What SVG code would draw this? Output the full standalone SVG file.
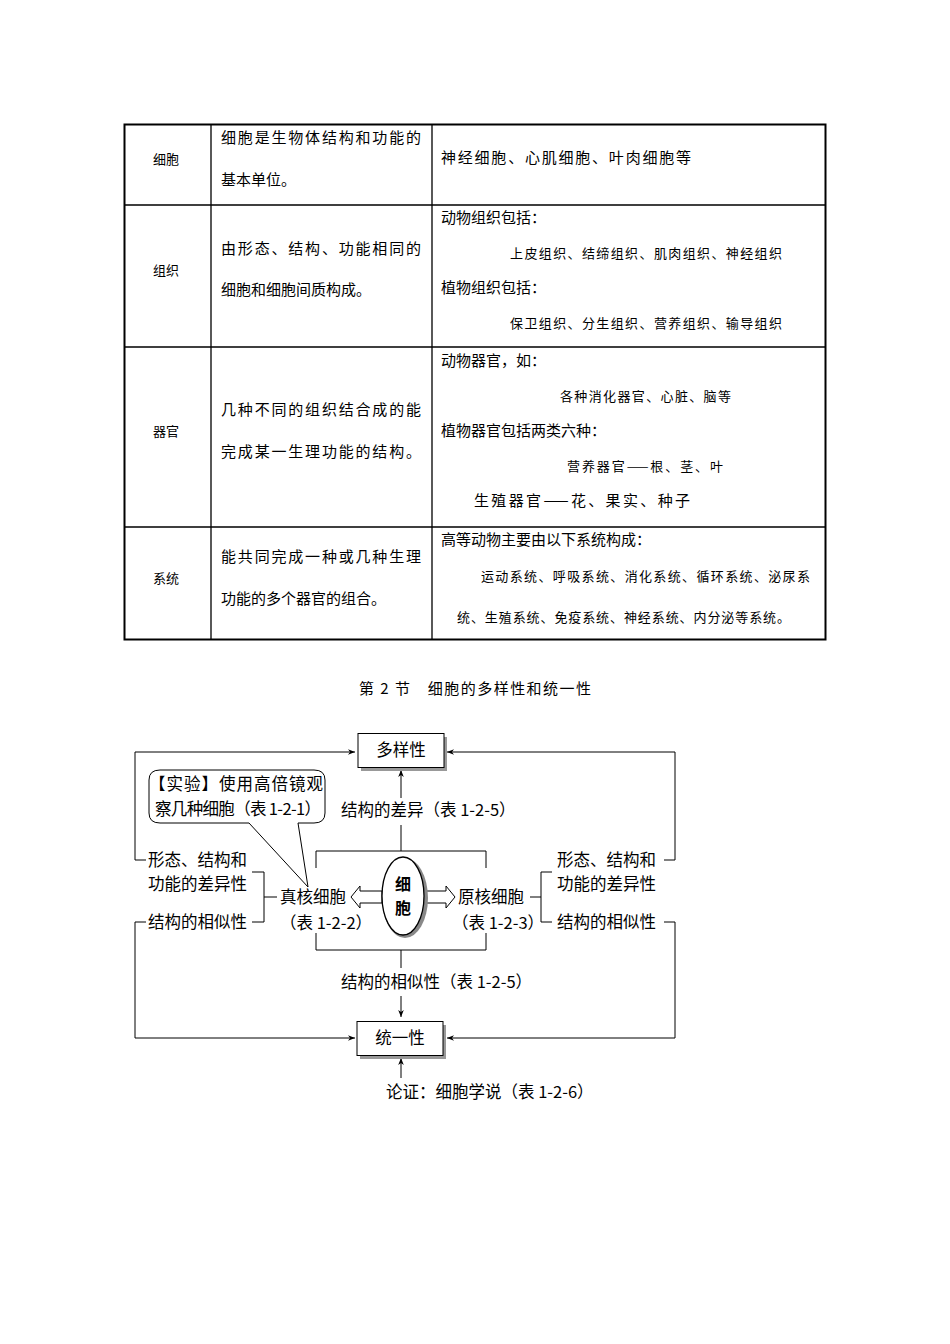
<svg xmlns="http://www.w3.org/2000/svg" width="950" height="1344" viewBox="0 0 950 1344">
<style>
text{font-family:"Noto Sans CJK SC","Liberation Serif",serif;fill:#000}
.m{font-size:15px}
.d{font-size:16.5px}
.s{font-size:13px}
.l{stroke:#000;stroke-width:1;fill:none}
.t{stroke:#000;stroke-width:1.3;fill:none}
</style>
<defs>
<marker id="a" viewBox="0 0 10 10" refX="10" refY="5" markerWidth="7" markerHeight="7" orient="auto"><path d="M0,1 L10,5 L0,9 L3,5 Z" fill="#000"/></marker>
</defs>
<rect x="0" y="0" width="950" height="1344" fill="#fff"/>
<g id="table">
<rect x="124.5" y="124.5" width="701" height="515" fill="none" stroke="#000" stroke-width="2"/>
<path class="t" d="M211,125V640M432,125V640M125,205H826M125,347H826M125,527H826"/>
<text class="s" x="153" y="164">细胞</text>
<text class="m" x="221" y="143" textLength="200">细胞是生物体结构和功能的</text>
<text class="m" x="221" y="185">基本单位。</text>
<text class="m" x="441" y="163" textLength="250">神经细胞、心肌细胞、叶肉细胞等</text>
<text class="s" x="153" y="275">组织</text>
<text class="m" x="221" y="254" textLength="200">由形态、结构、功能相同的</text>
<text class="m" x="221" y="295">细胞和细胞间质构成。</text>
<text class="m" x="441" y="223">动物组织包括：</text>
<text class="s" x="510" y="258" textLength="272">上皮组织、结缔组织、肌肉组织、神经组织</text>
<text class="m" x="441" y="293">植物组织包括：</text>
<text class="s" x="510" y="328" textLength="272">保卫组织、分生组织、营养组织、输导组织</text>
<text class="s" x="153" y="436">器官</text>
<text class="m" x="221" y="415" textLength="200">几种不同的组织结合成的能</text>
<text class="m" x="221" y="457" textLength="200">完成某一生理功能的结构。</text>
<text class="m" x="441" y="366">动物器官，如：</text>
<text class="s" x="560" y="401" textLength="171">各种消化器官、心脏、脑等</text>
<text class="m" x="441" y="436">植物器官包括两类六种：</text>
<text class="s" x="567" y="471" textLength="156">营养器官——根、茎、叶</text>
<text class="m" x="474" y="506" textLength="216">生殖器官——花、果实、种子</text>
<text class="s" x="153" y="583">系统</text>
<text class="m" x="221" y="562" textLength="200">能共同完成一种或几种生理</text>
<text class="m" x="221" y="604">功能的多个器官的组合。</text>
<text class="m" x="441" y="545">高等动物主要由以下系统构成：</text>
<text class="s" x="481" y="581" textLength="329">运动系统、呼吸系统、消化系统、循环系统、泌尿系</text>
<text class="s" x="457" y="622" textLength="333">统、生殖系统、免疫系统、神经系统、内分泌等系统。</text>
</g>
<text class="m" x="359" y="694" textLength="232">第 2 节　细胞的多样性和统一性</text>
<g id="connectors">
<path class="l" d="M135,860V752H355" marker-end="url(#a)"/>
<path class="l" d="M135,860H146"/>
<path class="l" d="M146,922H135V1038H355" marker-end="url(#a)"/>
<path class="l" d="M664,860H675V752H447" marker-end="url(#a)"/>
<path class="l" d="M664,922H675V1038H447" marker-end="url(#a)"/>
<path class="l" d="M252,872H264V922H252M264,897H277"/>
<path class="l" d="M552,872H541V922H552M530,897H541"/>
<path class="l" d="M316,868V851H486V868M316,933V950H486V933"/>
<path class="l" d="M401,851V825M401,798V770" marker-end="url(#a)"/>
<path class="l" d="M401,950V968M401,996V1017" marker-end="url(#a)"/>
<path class="l" d="M401,1078V1058" marker-end="url(#a)"/>
<path d="M382,891H360V886L351,897L360,908V903H382Z" fill="#fff" stroke="#000"/>
<path d="M424,891H446V886L455,897L446,908V903H424Z" fill="#fff" stroke="#000"/>
</g>
<g id="n-duoyang">
<rect x="361" y="737" width="86" height="34" fill="#999"/>
<rect x="358" y="733.5" width="86" height="34" fill="#fff" stroke="#000"/>
<text class="d" x="401" y="756" text-anchor="middle">多样性</text>
</g>
<g id="n-tongyi">
<rect x="360" y="1025" width="86" height="34" fill="#999"/>
<rect x="357" y="1021.5" width="86" height="34" fill="#fff" stroke="#000"/>
<text class="d" x="400" y="1044" text-anchor="middle">统一性</text>
</g>
<g id="n-cell">
<ellipse cx="405" cy="898" rx="23" ry="40" fill="#888"/>
<ellipse cx="403" cy="896" rx="21" ry="39" fill="#fff" stroke="#000" stroke-width="1.3"/>
<text x="403" y="890" font-size="16" font-weight="bold" text-anchor="middle">细</text>
<text x="403" y="914" font-size="16" font-weight="bold" text-anchor="middle">胞</text>
</g>
<g id="n-callout">
<path d="M160,770H314Q325,770 325,780V813Q325,823 314,823H298L308,887L249,823H160Q149,823 149,813V780Q149,770 160,770Z" fill="#fff" stroke="#000"/>
<text class="d" x="149" y="790" textLength="174">【实验】使用高倍镜观</text>
<text class="d" x="155" y="815" textLength="166">察几种细胞（表 1-2-1）</text>
</g>
<g id="labels">
<text class="d" x="341" y="816">结构的差异（表 1-2-5）</text>
<text class="d" x="341" y="988">结构的相似性（表 1-2-5）</text>
<text class="d" x="386" y="1098">论证：细胞学说（表 1-2-6）</text>
<text class="d" x="148" y="866">形态、结构和</text>
<text class="d" x="148" y="890">功能的差异性</text>
<text class="d" x="148" y="928">结构的相似性</text>
<text class="d" x="280" y="903">真核细胞</text>
<text class="d" x="280" y="929">（表 1-2-2）</text>
<text class="d" x="458" y="903">原核细胞</text>
<text class="d" x="452" y="929">（表 1-2-3）</text>
<text class="d" x="557" y="866">形态、结构和</text>
<text class="d" x="557" y="890">功能的差异性</text>
<text class="d" x="557" y="928">结构的相似性</text>
</g>
</svg>
